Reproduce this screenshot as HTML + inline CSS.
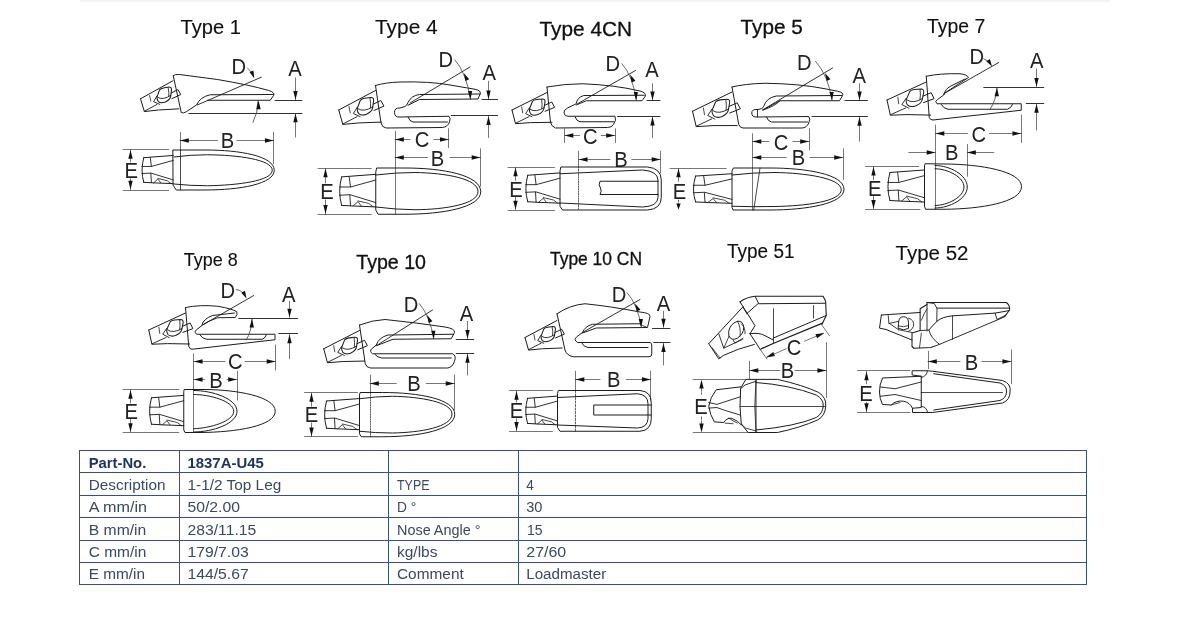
<!DOCTYPE html>
<html><head><meta charset="utf-8"><title>Tooth types</title>
<style>
html,body{margin:0;padding:0;background:#fff;}
body{width:1184px;height:622px;overflow:hidden;position:relative;font-family:"Liberation Sans",sans-serif;}
svg{position:absolute;left:0;top:0;display:block;will-change:transform}
svg text{font-family:"Liberation Sans",sans-serif;}
</style></head><body>
<svg width="1184" height="622" viewBox="0 0 1184 622" stroke-linecap="round" stroke-linejoin="round">
<text x="180.50" y="34.25" font-size="21" textLength="60.50" lengthAdjust="spacingAndGlyphs" fill="#101010" stroke="#101010" stroke-width="0.12">Type 1</text>
<path d="M 173.25,75.75 Q 175.00,74.00 179.50,74.50 L 217.50,79.50 Q 250.00,85.00 268.75,90.50 Q 275.00,92.50 273.75,95.25 L 270.25,100.25 L 207.50,100.25" fill="none" stroke="#1c1c1c" stroke-width="1.00"/>
<path d="M 273.50,94.50 L 210.25,94.75 Q 200.00,97.00 196.50,105.00 L 186.25,111.75 Q 183.00,113.75 181.25,112.50 L 173.25,75.75" fill="none" stroke="#1c1c1c" stroke-width="1.00"/>
<path d="M 140.50,98.75 L 173.00,80.75" fill="none" stroke="#1c1c1c" stroke-width="1.00"/>
<path d="M 140.50,98.75 L 144.27,111.27" fill="none" stroke="#1c1c1c" stroke-width="1.00"/>
<path d="M 144.81,111.53 L 158.52,109.97 L 178.80,108.85" fill="none" stroke="#1c1c1c" stroke-width="1.00"/>
<path d="M 144.27,111.27 L 154.79,105.57 L 157.00,104.38" fill="none" stroke="#1c1c1c" stroke-width="0.90"/>
<path d="M 156.89,97.38 L 159.54,89.88 Q 160.63,88.39 163.43,87.90 L 168.95,87.06 Q 171.54,86.88 171.49,89.69 L 170.79,95.82 Q 170.31,99.71 165.31,102.01 Q 160.88,103.78 158.39,101.59 Q 156.93,99.92 156.89,97.38 Z" fill="none" stroke="#1c1c1c" stroke-width="1.05"/>
<path d="M 168.20,87.61 Q 169.22,92.50 168.79,96.43" fill="none" stroke="#1c1c1c" stroke-width="0.85"/>
<path d="M 157.65,97.36 Q 163.06,100.71 170.78,95.24" fill="none" stroke="#1c1c1c" stroke-width="0.90"/>
<path d="M 156.87,96.04 L 153.57,101.67 L 159.77,104.33" fill="none" stroke="#1c1c1c" stroke-width="0.90"/>
<path d="M 171.28,93.00 L 177.91,89.59 L 180.80,94.54 L 171.94,98.61" fill="none" stroke="#1c1c1c" stroke-width="1.00"/>
<path d="M 149.59,95.57 L 150.80,101.17" fill="none" stroke="#1c1c1c" stroke-width="0.80"/>
<path d="M197.25,105.00 L261.25,77.25" fill="none" stroke="#1c1c1c" stroke-width="0.90"/>
<path d="M 247.50,68.00 Q 251.50,71.25 253.50,76.50" fill="none" stroke="#3c3c3c" stroke-width="0.75"/>
<polygon points="254.25,78.25 249.51,72.07 253.41,70.51" fill="#111"/>
<text transform="translate(238.75,73.50) scale(0.92,1)" x="0" y="0" font-size="22" text-anchor="middle" fill="#222">D</text>
<path d="M188.75,113.50 L302.00,113.50" fill="none" stroke="#1c1c1c" stroke-width="0.90"/>
<path d="M275.00,100.50 L302.00,100.50" fill="none" stroke="#1c1c1c" stroke-width="0.90"/>
<text transform="translate(295.00,76.38) scale(0.92,1)" x="0" y="0" font-size="22" text-anchor="middle" fill="#222">A</text>
<path d="M295.50,78.00 L295.50,99.50" fill="none" stroke="#3c3c3c" stroke-width="0.70"/>
<polygon points="295.50,99.75 293.30,90.95 297.70,90.95" fill="#111"/>
<path d="M295.50,137.00 L295.50,113.75" fill="none" stroke="#3c3c3c" stroke-width="0.70"/>
<polygon points="295.50,113.50 297.70,122.30 293.30,122.30" fill="#111"/>
<path d="M 253.00,122.50 Q 258.00,112.50 258.00,101.00" fill="none" stroke="#3c3c3c" stroke-width="0.80"/>
<polygon points="258.50,100.50 260.70,109.30 256.30,109.30" fill="#111"/>
<path d="M180.50,132.50 L180.50,150.00" fill="none" stroke="#3c3c3c" stroke-width="0.70"/>
<path d="M273.50,132.50 L273.50,163.75" fill="none" stroke="#3c3c3c" stroke-width="0.70"/>
<path d="M180.00,140.50 L217.50,140.50" fill="none" stroke="#3c3c3c" stroke-width="0.70"/>
<path d="M237.00,140.50 L273.75,140.50" fill="none" stroke="#3c3c3c" stroke-width="0.70"/>
<polygon points="180.00,140.50 188.80,138.30 188.80,142.70" fill="#111"/>
<polygon points="273.75,140.50 264.95,142.70 264.95,138.30" fill="#111"/>
<text transform="translate(227.50,147.88) scale(0.92,1)" x="0" y="0" font-size="22" text-anchor="middle" fill="#222">B</text>
<path d="M 173.25,150.00 L 205.00,150.00 C 240.00,150.00 274.25,156.00 274.25,170.25 C 274.25,184.00 240.00,190.00 205.00,190.00 L 176.25,190.00 L 173.25,185.50 Z" fill="none" stroke="#1c1c1c" stroke-width="1.00"/>
<path d="M 174.00,157.00 Q 190.00,154.75 207.50,154.75 C 237.50,155.00 272.25,159.50 272.25,170.25 C 272.25,181.00 237.50,185.25 207.50,185.75 Q 190.00,185.75 174.00,184.00" fill="none" stroke="#1c1c1c" stroke-width="1.00"/>
<path d="M180.50,150.00 L180.50,190.00" fill="none" stroke="#1c1c1c" stroke-width="0.80"/>
<path d="M 143.75,157.68 L 173.25,155.48" fill="none" stroke="#1c1c1c" stroke-width="1.00"/>
<path d="M 143.75,157.68 Q 140.29,170.28 143.75,182.32" fill="none" stroke="#1c1c1c" stroke-width="1.00"/>
<path d="M 143.75,182.32 L 154.05,182.88 L 173.25,183.64" fill="none" stroke="#1c1c1c" stroke-width="1.00"/>
<path d="M 150.31,157.68 L 151.39,166.44" fill="none" stroke="#1c1c1c" stroke-width="0.90"/>
<path d="M 150.85,173.36 L 151.39,182.56" fill="none" stroke="#1c1c1c" stroke-width="0.90"/>
<path d="M 141.89,166.44 L 151.39,166.44 L 173.25,160.40" fill="none" stroke="#1c1c1c" stroke-width="0.90"/>
<path d="M 141.89,173.56 L 151.07,173.12 L 173.25,179.92" fill="none" stroke="#1c1c1c" stroke-width="0.90"/>
<path d="M 153.60,182.88 L 157.95,179.04 L 160.71,182.88" fill="none" stroke="#1c1c1c" stroke-width="0.80"/>
<path d="M 157.95,178.48 L 167.23,180.68 L 171.07,183.64" fill="none" stroke="#1c1c1c" stroke-width="0.80"/>
<path d="M123.25,149.50 L168.75,149.50" fill="none" stroke="#3c3c3c" stroke-width="0.70"/>
<path d="M123.25,190.50 L168.75,190.50" fill="none" stroke="#3c3c3c" stroke-width="0.70"/>
<path d="M130.50,150.00 L130.50,162.00" fill="none" stroke="#3c3c3c" stroke-width="0.70"/>
<path d="M130.50,178.75 L130.50,189.50" fill="none" stroke="#3c3c3c" stroke-width="0.70"/>
<polygon points="130.50,150.00 132.70,158.80 128.30,158.80" fill="#111"/>
<polygon points="130.50,189.50 128.30,180.70 132.70,180.70" fill="#111"/>
<text transform="translate(131.25,177.88) scale(0.92,1)" x="0" y="0" font-size="22" text-anchor="middle" fill="#222">E</text>
<text x="375.00" y="33.75" font-size="21" textLength="62.75" lengthAdjust="spacingAndGlyphs" fill="#101010" stroke="#101010" stroke-width="0.12">Type 4</text>
<path d="M 375.50,85.50 Q 385.00,82.50 400.00,82.00 Q 430.00,81.25 450.00,85.00 L 475.00,89.25 Q 481.00,90.50 480.25,93.50 L 478.00,99.00 L 419.50,99.50 L 408.00,105.25" fill="none" stroke="#1c1c1c" stroke-width="1.00"/>
<path d="M 480.50,94.00 L 419.50,94.50 Q 411.25,95.50 408.00,102.50 Q 407.00,105.50 405.00,106.50 L 400.00,108.00 Q 394.50,107.50 394.50,112.50 Q 394.50,117.50 400.00,117.00 L 449.00,116.25 Q 451.00,118.00 449.50,122.00 Q 447.50,127.00 442.50,127.50 L 386.25,128.00 Q 382.00,127.50 381.00,123.00 L 375.50,85.50" fill="none" stroke="#1c1c1c" stroke-width="1.00"/>
<path d="M 408.00,117.00 Q 409.50,121.50 413.00,122.00 L 447.50,122.00" fill="none" stroke="#1c1c1c" stroke-width="1.00"/>
<path d="M 338.75,110.00 L 375.50,90.50" fill="none" stroke="#1c1c1c" stroke-width="1.00"/>
<path d="M 338.75,110.00 L 342.72,124.09" fill="none" stroke="#1c1c1c" stroke-width="1.00"/>
<path d="M 343.31,124.39 L 358.70,122.93 L 381.43,122.08" fill="none" stroke="#1c1c1c" stroke-width="1.00"/>
<path d="M 342.72,124.09 L 354.62,117.92 L 357.12,116.63" fill="none" stroke="#1c1c1c" stroke-width="0.90"/>
<path d="M 357.13,108.79 L 360.25,100.46 Q 361.50,98.81 364.65,98.32 L 370.84,97.48 Q 373.74,97.34 373.63,100.48 L 372.72,107.33 Q 372.11,111.67 366.46,114.15 Q 361.46,116.04 358.72,113.54 Q 357.13,111.64 357.13,108.79 Z" fill="none" stroke="#1c1c1c" stroke-width="1.05"/>
<path d="M 369.99,98.08 Q 371.03,103.58 370.47,107.97" fill="none" stroke="#1c1c1c" stroke-width="0.85"/>
<path d="M 357.98,108.79 Q 363.97,112.65 372.72,106.68" fill="none" stroke="#1c1c1c" stroke-width="0.90"/>
<path d="M 357.14,107.29 L 353.33,113.53 L 360.21,116.64" fill="none" stroke="#1c1c1c" stroke-width="0.90"/>
<path d="M 373.32,104.18 L 380.82,100.50 L 383.96,106.10 L 373.96,110.47" fill="none" stroke="#1c1c1c" stroke-width="1.00"/>
<path d="M 349.00,106.63 L 350.23,112.92" fill="none" stroke="#1c1c1c" stroke-width="0.80"/>
<path d="M410.00,103.00 L470.00,67.00" fill="none" stroke="#1c1c1c" stroke-width="0.90"/>
<path d="M 455.00,60.00 Q 466.25,72.50 470.50,99.25" fill="none" stroke="#3c3c3c" stroke-width="0.75"/>
<polygon points="463.75,73.00 469.21,79.22 465.45,81.09" fill="#111"/>
<polygon points="470.50,99.50 467.98,91.12 472.17,90.91" fill="#111"/>
<text transform="translate(445.75,67.00) scale(0.92,1)" x="0" y="0" font-size="22" text-anchor="middle" fill="#222">D</text>
<text transform="translate(489.25,80.38) scale(0.92,1)" x="0" y="0" font-size="22" text-anchor="middle" fill="#222">A</text>
<path d="M488.50,81.25 L488.50,99.00" fill="none" stroke="#3c3c3c" stroke-width="0.70"/>
<polygon points="488.50,99.25 486.30,90.45 490.70,90.45" fill="#111"/>
<path d="M482.00,99.50 L497.50,99.50" fill="none" stroke="#1c1c1c" stroke-width="0.90"/>
<path d="M451.25,115.50 L497.50,115.50" fill="none" stroke="#1c1c1c" stroke-width="0.90"/>
<path d="M488.50,137.50 L488.50,116.50" fill="none" stroke="#3c3c3c" stroke-width="0.70"/>
<polygon points="488.50,116.25 490.70,125.05 486.30,125.05" fill="#111"/>
<path d="M395.50,131.25 L395.50,214.25" fill="none" stroke="#3c3c3c" stroke-width="0.70"/>
<path d="M448.50,128.75 L448.50,147.50" fill="none" stroke="#3c3c3c" stroke-width="0.70"/>
<path d="M395.00,139.50 L410.00,139.50" fill="none" stroke="#3c3c3c" stroke-width="0.70"/>
<path d="M433.75,139.50 L448.75,139.50" fill="none" stroke="#3c3c3c" stroke-width="0.70"/>
<polygon points="395.00,139.50 403.80,137.30 403.80,141.70" fill="#111"/>
<polygon points="448.75,139.50 439.95,141.70 439.95,137.30" fill="#111"/>
<text transform="translate(422.12,147.38) scale(0.92,1)" x="0" y="0" font-size="22" text-anchor="middle" fill="#222">C</text>
<path d="M480.50,148.75 L480.50,186.25" fill="none" stroke="#3c3c3c" stroke-width="0.70"/>
<path d="M395.00,157.50 L427.50,157.50" fill="none" stroke="#3c3c3c" stroke-width="0.70"/>
<path d="M450.00,157.50 L480.50,157.50" fill="none" stroke="#3c3c3c" stroke-width="0.70"/>
<polygon points="395.00,157.50 403.80,155.30 403.80,159.70" fill="#111"/>
<polygon points="480.50,157.50 471.70,159.70 471.70,155.30" fill="#111"/>
<text transform="translate(437.50,165.63) scale(0.92,1)" x="0" y="0" font-size="22" text-anchor="middle" fill="#222">B</text>
<path d="M 377.00,168.00 L 405.00,168.00 C 442.50,168.00 480.75,175.00 480.75,191.75 C 480.75,207.50 442.50,214.25 405.00,214.25 L 378.00,214.25 L 375.75,210.00 L 375.75,172.50 Z" fill="none" stroke="#1c1c1c" stroke-width="1.00"/>
<path d="M 375.75,175.00 Q 395.00,172.50 415.00,172.50 C 445.00,173.00 478.00,178.50 478.00,191.50 C 478.00,204.25 445.00,209.50 415.00,209.75 Q 395.00,209.50 375.75,207.00" fill="none" stroke="#1c1c1c" stroke-width="1.00"/>
<path d="M 341.64,176.88 L 375.75,174.34" fill="none" stroke="#1c1c1c" stroke-width="1.00"/>
<path d="M 341.64,176.88 Q 337.64,191.45 341.64,205.37" fill="none" stroke="#1c1c1c" stroke-width="1.00"/>
<path d="M 341.64,205.37 L 353.55,206.02 L 375.75,206.90" fill="none" stroke="#1c1c1c" stroke-width="1.00"/>
<path d="M 349.22,176.88 L 350.48,187.01" fill="none" stroke="#1c1c1c" stroke-width="0.90"/>
<path d="M 349.85,195.01 L 350.48,205.65" fill="none" stroke="#1c1c1c" stroke-width="0.90"/>
<path d="M 339.49,187.01 L 350.48,187.01 L 375.75,180.03" fill="none" stroke="#1c1c1c" stroke-width="0.90"/>
<path d="M 339.49,195.24 L 350.11,194.73 L 375.75,202.59" fill="none" stroke="#1c1c1c" stroke-width="0.90"/>
<path d="M 353.03,206.02 L 358.06,201.58 L 361.25,206.02" fill="none" stroke="#1c1c1c" stroke-width="0.80"/>
<path d="M 358.06,200.93 L 368.79,203.47 L 373.23,206.90" fill="none" stroke="#1c1c1c" stroke-width="0.80"/>
<path d="M318.00,168.50 L371.25,168.50" fill="none" stroke="#3c3c3c" stroke-width="0.70"/>
<path d="M318.00,214.50 L371.25,214.50" fill="none" stroke="#3c3c3c" stroke-width="0.70"/>
<path d="M325.50,168.50 L325.50,183.00" fill="none" stroke="#3c3c3c" stroke-width="0.70"/>
<path d="M325.50,200.00 L325.50,213.75" fill="none" stroke="#3c3c3c" stroke-width="0.70"/>
<polygon points="325.50,168.50 327.70,177.30 323.30,177.30" fill="#111"/>
<polygon points="325.50,213.75 323.30,204.95 327.70,204.95" fill="#111"/>
<text transform="translate(326.88,199.13) scale(0.92,1)" x="0" y="0" font-size="22" text-anchor="middle" fill="#222">E</text>
<text x="539.50" y="36.25" font-size="21" textLength="92.50" lengthAdjust="spacingAndGlyphs" fill="#101010" stroke="#101010" stroke-width="0.32">Type 4CN</text>
<path d="M 547.00,87.00 Q 565.00,83.75 582.50,83.75 Q 615.00,85.00 640.00,91.00 Q 646.50,92.75 645.25,96.25 L 642.00,100.75 L 586.25,100.75 L 576.25,105.00" fill="none" stroke="#1c1c1c" stroke-width="1.00"/>
<path d="M 644.25,95.25 L 583.75,95.50 Q 577.00,97.50 576.25,103.75 L 567.50,108.00 Q 563.50,110.00 564.00,113.00 Q 564.50,116.50 568.00,116.25 L 615.00,116.25 Q 616.75,120.00 613.50,124.50 Q 611.50,127.50 607.50,127.50 L 555.50,128.00 Q 551.50,126.50 550.50,122.50 L 547.00,87.00" fill="none" stroke="#1c1c1c" stroke-width="1.00"/>
<path d="M 575.00,116.75 Q 576.50,121.25 580.00,121.75 L 614.00,121.75" fill="none" stroke="#1c1c1c" stroke-width="1.00"/>
<path d="M 512.00,110.00 L 547.00,92.50" fill="none" stroke="#1c1c1c" stroke-width="1.00"/>
<path d="M 512.00,110.00 L 515.41,123.34" fill="none" stroke="#1c1c1c" stroke-width="1.00"/>
<path d="M 515.96,123.64 L 530.47,122.61 L 551.85,122.33" fill="none" stroke="#1c1c1c" stroke-width="1.00"/>
<path d="M 515.41,123.34 L 526.74,117.81 L 529.12,116.65" fill="none" stroke="#1c1c1c" stroke-width="0.90"/>
<path d="M 529.31,109.28 L 532.43,101.52 Q 533.64,100.00 536.62,99.60 L 542.46,98.96 Q 545.19,98.89 545.02,101.85 L 544.00,108.26 Q 543.33,112.33 537.96,114.54 Q 533.22,116.20 530.70,113.78 Q 529.24,111.96 529.31,109.28 Z" fill="none" stroke="#1c1c1c" stroke-width="1.05"/>
<path d="M 541.65,99.50 Q 542.50,104.69 541.87,108.81" fill="none" stroke="#1c1c1c" stroke-width="0.85"/>
<path d="M 530.11,109.30 Q 535.65,113.07 544.02,107.65" fill="none" stroke="#1c1c1c" stroke-width="0.90"/>
<path d="M 529.35,107.87 L 525.63,113.65 L 532.03,116.73" fill="none" stroke="#1c1c1c" stroke-width="0.90"/>
<path d="M 544.64,105.31 L 551.78,102.02 L 554.60,107.36 L 545.10,111.25" fill="none" stroke="#1c1c1c" stroke-width="1.00"/>
<path d="M 521.71,107.06 L 522.73,113.01" fill="none" stroke="#1c1c1c" stroke-width="0.80"/>
<path d="M577.50,103.75 L635.50,70.50" fill="none" stroke="#1c1c1c" stroke-width="0.90"/>
<path d="M 622.00,63.75 Q 633.00,76.25 636.25,100.00" fill="none" stroke="#3c3c3c" stroke-width="0.75"/>
<polygon points="630.00,74.50 635.46,80.72 631.70,82.59" fill="#111"/>
<polygon points="636.25,100.50 633.73,92.12 637.92,91.91" fill="#111"/>
<text transform="translate(612.88,71.00) scale(0.92,1)" x="0" y="0" font-size="22" text-anchor="middle" fill="#222">D</text>
<text transform="translate(652.12,77.25) scale(0.92,1)" x="0" y="0" font-size="22" text-anchor="middle" fill="#222">A</text>
<path d="M652.50,83.75 L652.50,100.00" fill="none" stroke="#3c3c3c" stroke-width="0.70"/>
<polygon points="652.50,100.25 650.30,91.45 654.70,91.45" fill="#111"/>
<path d="M647.00,100.50 L660.00,100.50" fill="none" stroke="#1c1c1c" stroke-width="0.90"/>
<path d="M617.50,116.50 L660.00,116.50" fill="none" stroke="#1c1c1c" stroke-width="0.90"/>
<path d="M652.50,137.50 L652.50,117.00" fill="none" stroke="#3c3c3c" stroke-width="0.70"/>
<polygon points="652.50,116.75 654.70,125.55 650.30,125.55" fill="#111"/>
<path d="M564.50,128.75 L564.50,142.50" fill="none" stroke="#3c3c3c" stroke-width="0.70"/>
<path d="M615.50,128.75 L615.50,142.50" fill="none" stroke="#3c3c3c" stroke-width="0.70"/>
<path d="M564.50,135.50 L579.50,135.50" fill="none" stroke="#3c3c3c" stroke-width="0.70"/>
<path d="M601.25,135.50 L615.00,135.50" fill="none" stroke="#3c3c3c" stroke-width="0.70"/>
<polygon points="564.50,135.50 573.30,133.30 573.30,137.70" fill="#111"/>
<polygon points="615.00,135.50 606.20,137.70 606.20,133.30" fill="#111"/>
<text transform="translate(590.38,144.13) scale(0.92,1)" x="0" y="0" font-size="22" text-anchor="middle" fill="#222">C</text>
<path d="M578.50,151.25 L578.50,167.00" fill="none" stroke="#3c3c3c" stroke-width="0.70"/>
<path d="M660.50,151.25 L660.50,173.00" fill="none" stroke="#3c3c3c" stroke-width="0.70"/>
<path d="M578.75,159.50 L610.00,159.50" fill="none" stroke="#3c3c3c" stroke-width="0.70"/>
<path d="M632.00,159.50 L660.50,159.50" fill="none" stroke="#3c3c3c" stroke-width="0.70"/>
<polygon points="578.75,159.50 587.55,157.30 587.55,161.70" fill="#111"/>
<polygon points="660.50,159.50 651.70,161.70 651.70,157.30" fill="#111"/>
<text transform="translate(621.00,166.63) scale(0.92,1)" x="0" y="0" font-size="22" text-anchor="middle" fill="#222">B</text>
<path d="M 561.25,167.00 L 647.50,167.00 Q 661.25,168.25 661.25,180.00 L 661.25,197.50 Q 661.25,209.00 647.50,210.00 L 562.50,210.00 L 560.00,206.25 L 560.00,171.25 Z" fill="none" stroke="#1c1c1c" stroke-width="1.00"/>
<path d="M 560.00,173.75 L 642.50,170.00 Q 657.50,171.00 658.00,180.00 L 658.00,197.50 Q 657.50,206.50 642.50,207.00 L 560.00,203.00" fill="none" stroke="#1c1c1c" stroke-width="1.00"/>
<path d="M 658.00,181.25 L 600.00,181.25 Q 598.00,185.00 600.50,188.00 Q 602.00,191.25 600.00,194.50 L 658.00,194.50" fill="none" stroke="#1c1c1c" stroke-width="1.00"/>
<path d="M578.50,167.00 L578.50,210.00" fill="none" stroke="#1c1c1c" stroke-width="0.70" stroke-dasharray="1.2,1.2"/>
<path d="M 527.73,175.26 L 560.00,172.89" fill="none" stroke="#1c1c1c" stroke-width="1.00"/>
<path d="M 527.73,175.26 Q 523.95,188.80 527.73,201.74" fill="none" stroke="#1c1c1c" stroke-width="1.00"/>
<path d="M 527.73,201.74 L 539.00,202.35 L 560.00,203.16" fill="none" stroke="#1c1c1c" stroke-width="1.00"/>
<path d="M 534.90,175.26 L 536.10,184.67" fill="none" stroke="#1c1c1c" stroke-width="0.90"/>
<path d="M 535.50,192.11 L 536.10,202.00" fill="none" stroke="#1c1c1c" stroke-width="0.90"/>
<path d="M 525.70,184.67 L 536.10,184.67 L 560.00,178.18" fill="none" stroke="#1c1c1c" stroke-width="0.90"/>
<path d="M 525.70,192.33 L 535.75,191.85 L 560.00,199.16" fill="none" stroke="#1c1c1c" stroke-width="0.90"/>
<path d="M 538.51,202.35 L 543.27,198.22 L 546.28,202.35" fill="none" stroke="#1c1c1c" stroke-width="0.80"/>
<path d="M 543.27,197.62 L 553.42,199.98 L 557.62,203.16" fill="none" stroke="#1c1c1c" stroke-width="0.80"/>
<path d="M508.00,167.50 L554.50,167.50" fill="none" stroke="#3c3c3c" stroke-width="0.70"/>
<path d="M508.00,210.50 L554.50,210.50" fill="none" stroke="#3c3c3c" stroke-width="0.70"/>
<path d="M515.50,167.50 L515.50,180.50" fill="none" stroke="#3c3c3c" stroke-width="0.70"/>
<path d="M515.50,197.00 L515.50,209.50" fill="none" stroke="#3c3c3c" stroke-width="0.70"/>
<polygon points="515.50,167.50 517.70,176.30 513.30,176.30" fill="#111"/>
<polygon points="515.50,209.50 513.30,200.70 517.70,200.70" fill="#111"/>
<text transform="translate(515.88,196.63) scale(0.92,1)" x="0" y="0" font-size="22" text-anchor="middle" fill="#222">E</text>
<text x="740.50" y="33.75" font-size="21" textLength="62.25" lengthAdjust="spacingAndGlyphs" fill="#101010" stroke="#101010" stroke-width="0.32">Type 5</text>
<path d="M 732.00,87.00 Q 745.00,83.75 765.00,83.25 Q 800.00,83.75 825.00,88.75 L 837.50,91.25 Q 844.25,92.50 842.50,95.75 L 839.50,100.75 L 780.00,100.75 L 763.00,110.00" fill="none" stroke="#1c1c1c" stroke-width="1.00"/>
<path d="M 841.75,95.50 L 776.25,96.00 Q 766.25,98.00 763.75,106.25 Q 763.00,109.00 757.50,109.50 Q 751.75,109.00 751.75,113.00 Q 751.75,117.50 757.50,117.00 L 808.75,116.50 Q 810.75,118.50 808.75,123.00 Q 806.50,128.00 802.00,128.00 L 743.00,128.00 Q 739.50,127.50 738.75,124.50 L 732.00,87.00" fill="none" stroke="#1c1c1c" stroke-width="1.00"/>
<path d="M757.50,109.50 L757.50,117.00" fill="none" stroke="#1c1c1c" stroke-width="0.90"/>
<path d="M 766.50,117.00 Q 768.00,121.50 771.50,122.00 L 807.50,122.00" fill="none" stroke="#1c1c1c" stroke-width="1.00"/>
<path d="M 763.00,110.00 Q 775.00,106.25 780.00,100.75" fill="none" stroke="#1c1c1c" stroke-width="0.90"/>
<path d="M 692.50,111.25 L 732.00,92.00" fill="none" stroke="#1c1c1c" stroke-width="1.00"/>
<path d="M 692.50,111.25 L 696.17,126.27" fill="none" stroke="#1c1c1c" stroke-width="1.00"/>
<path d="M 696.80,126.61 L 713.09,125.62 L 737.11,125.55" fill="none" stroke="#1c1c1c" stroke-width="1.00"/>
<path d="M 696.17,126.27 L 708.96,120.19 L 711.65,118.92" fill="none" stroke="#1c1c1c" stroke-width="0.90"/>
<path d="M 711.95,110.64 L 715.54,101.96 Q 716.92,100.26 720.26,99.86 L 726.83,99.20 Q 729.89,99.15 729.66,102.47 L 728.45,109.66 Q 727.65,114.22 721.60,116.64 Q 716.25,118.45 713.45,115.71 Q 711.84,113.65 711.95,110.64 Z" fill="none" stroke="#1c1c1c" stroke-width="1.05"/>
<path d="M 725.91,99.80 Q 726.80,105.64 726.05,110.26" fill="none" stroke="#1c1c1c" stroke-width="0.85"/>
<path d="M 712.84,110.67 Q 719.02,114.96 728.48,108.97" fill="none" stroke="#1c1c1c" stroke-width="0.90"/>
<path d="M 712.01,109.06 L 707.76,115.50 L 714.91,119.04" fill="none" stroke="#1c1c1c" stroke-width="0.90"/>
<path d="M 729.21,106.36 L 737.26,102.75 L 740.36,108.77 L 729.65,113.03" fill="none" stroke="#1c1c1c" stroke-width="1.00"/>
<path d="M 703.44,108.06 L 704.51,114.75" fill="none" stroke="#1c1c1c" stroke-width="0.80"/>
<path d="M762.50,110.00 L832.50,68.00" fill="none" stroke="#1c1c1c" stroke-width="0.90"/>
<path d="M 815.50,61.25 Q 828.00,75.00 832.00,100.00" fill="none" stroke="#3c3c3c" stroke-width="0.75"/>
<polygon points="825.00,73.00 830.46,79.22 826.70,81.09" fill="#111"/>
<polygon points="832.00,100.50 829.48,92.12 833.67,91.91" fill="#111"/>
<text transform="translate(804.25,70.00) scale(0.92,1)" x="0" y="0" font-size="22" text-anchor="middle" fill="#222">D</text>
<text transform="translate(859.25,82.88) scale(0.92,1)" x="0" y="0" font-size="22" text-anchor="middle" fill="#222">A</text>
<path d="M859.50,83.75 L859.50,100.00" fill="none" stroke="#3c3c3c" stroke-width="0.70"/>
<polygon points="859.50,100.25 857.30,91.45 861.70,91.45" fill="#111"/>
<path d="M845.00,100.50 L867.50,100.50" fill="none" stroke="#1c1c1c" stroke-width="0.90"/>
<path d="M812.00,116.50 L867.50,116.50" fill="none" stroke="#1c1c1c" stroke-width="0.90"/>
<path d="M859.50,141.25 L859.50,117.25" fill="none" stroke="#3c3c3c" stroke-width="0.70"/>
<polygon points="859.50,117.00 861.70,125.80 857.30,125.80" fill="#111"/>
<path d="M752.50,133.75 L752.50,210.00" fill="none" stroke="#3c3c3c" stroke-width="0.70"/>
<path d="M809.50,128.75 L809.50,150.00" fill="none" stroke="#3c3c3c" stroke-width="0.70"/>
<path d="M752.50,141.50 L768.75,141.50" fill="none" stroke="#3c3c3c" stroke-width="0.70"/>
<path d="M793.00,141.50 L809.00,141.50" fill="none" stroke="#3c3c3c" stroke-width="0.70"/>
<polygon points="752.50,141.50 761.30,139.30 761.30,143.70" fill="#111"/>
<polygon points="809.00,141.50 800.20,143.70 800.20,139.30" fill="#111"/>
<text transform="translate(781.00,149.88) scale(0.92,1)" x="0" y="0" font-size="22" text-anchor="middle" fill="#222">C</text>
<path d="M843.50,148.75 L843.50,179.50" fill="none" stroke="#3c3c3c" stroke-width="0.70"/>
<path d="M752.50,157.50 L786.25,157.50" fill="none" stroke="#3c3c3c" stroke-width="0.70"/>
<path d="M810.00,157.50 L843.00,157.50" fill="none" stroke="#3c3c3c" stroke-width="0.70"/>
<polygon points="752.50,157.50 761.30,155.30 761.30,159.70" fill="#111"/>
<polygon points="843.00,157.50 834.20,159.70 834.20,155.30" fill="#111"/>
<text transform="translate(798.50,165.38) scale(0.92,1)" x="0" y="0" font-size="22" text-anchor="middle" fill="#222">B</text>
<path d="M 733.75,168.00 L 770.00,168.00 C 806.25,168.00 844.00,174.25 844.00,189.25 C 844.00,203.75 806.25,210.00 770.00,210.00 L 733.00,210.00 L 732.00,207.50 L 732.00,171.25 Z" fill="none" stroke="#1c1c1c" stroke-width="1.00"/>
<path d="M 732.00,175.00 Q 752.50,172.50 775.00,172.50 C 805.00,173.00 841.25,178.00 841.25,189.75 C 841.25,201.50 805.00,206.00 775.00,206.50 Q 752.50,207.00 732.00,206.25" fill="none" stroke="#1c1c1c" stroke-width="1.00"/>
<path d="M760.00,168.00 L753.75,210.00" fill="none" stroke="#1c1c1c" stroke-width="0.80"/>
<path d="M 695.58,176.06 L 732.00,173.75" fill="none" stroke="#1c1c1c" stroke-width="1.00"/>
<path d="M 695.58,176.06 Q 691.32,189.29 695.58,201.94" fill="none" stroke="#1c1c1c" stroke-width="1.00"/>
<path d="M 695.58,201.94 L 708.30,202.52 L 732.00,203.32" fill="none" stroke="#1c1c1c" stroke-width="1.00"/>
<path d="M 703.68,176.06 L 705.02,185.26" fill="none" stroke="#1c1c1c" stroke-width="0.90"/>
<path d="M 704.35,192.53 L 705.02,202.19" fill="none" stroke="#1c1c1c" stroke-width="0.90"/>
<path d="M 693.29,185.26 L 705.02,185.26 L 732.00,178.92" fill="none" stroke="#1c1c1c" stroke-width="0.90"/>
<path d="M 693.29,192.74 L 704.63,192.28 L 732.00,199.42" fill="none" stroke="#1c1c1c" stroke-width="0.90"/>
<path d="M 707.75,202.52 L 713.12,198.49 L 716.52,202.52" fill="none" stroke="#1c1c1c" stroke-width="0.80"/>
<path d="M 713.12,197.90 L 724.57,200.21 L 729.31,203.32" fill="none" stroke="#1c1c1c" stroke-width="0.80"/>
<path d="M670.00,168.50 L726.25,168.50" fill="none" stroke="#3c3c3c" stroke-width="0.70"/>
<path d="M678.50,168.75 L678.50,181.25" fill="none" stroke="#3c3c3c" stroke-width="0.70"/>
<path d="M678.50,200.00 L678.50,208.75" fill="none" stroke="#3c3c3c" stroke-width="0.75" stroke-dasharray="1.5,1.5"/>
<polygon points="678.50,168.50 680.70,177.30 676.30,177.30" fill="#111"/>
<polygon points="678.50,209.50 676.30,203.50 680.70,203.50" fill="#111"/>
<text transform="translate(679.38,199.13) scale(0.92,1)" x="0" y="0" font-size="22" text-anchor="middle" fill="#222">E</text>
<text x="927.00" y="33.00" font-size="20" textLength="58.25" lengthAdjust="spacingAndGlyphs" fill="#101010" stroke="#101010" stroke-width="0.12">Type 7</text>
<path d="M 926.25,76.25 Q 940.00,73.25 960.00,73.75 Q 967.00,74.50 968.50,77.50 L 946.25,92.00 Q 943.75,93.75 943.75,95.00 L 937.50,99.50 Q 934.25,101.50 937.00,103.75 L 1021.25,103.75 L 1021.25,110.25 L 933.00,120.00 Q 930.00,120.00 929.25,117.50 L 926.25,76.25" fill="none" stroke="#1c1c1c" stroke-width="1.00"/>
<path d="M 944.00,94.50 Q 945.00,89.00 950.50,86.25 L 965.00,79.00" fill="none" stroke="#1c1c1c" stroke-width="1.00"/>
<path d="M 941.25,104.50 Q 943.75,108.75 948.00,109.25 L 1007.50,109.25 Q 1011.50,107.75 1012.50,104.50" fill="none" stroke="#1c1c1c" stroke-width="1.00"/>
<path d="M 887.00,100.00 L 926.25,82.00" fill="none" stroke="#1c1c1c" stroke-width="1.00"/>
<path d="M 887.00,100.00 L 890.26,114.84" fill="none" stroke="#1c1c1c" stroke-width="1.00"/>
<path d="M 890.87,115.19 L 906.90,114.59 L 930.50,115.08" fill="none" stroke="#1c1c1c" stroke-width="1.00"/>
<path d="M 890.26,114.84 L 902.96,109.16 L 905.63,107.97" fill="none" stroke="#1c1c1c" stroke-width="0.90"/>
<path d="M 906.12,99.85 L 909.85,91.40 Q 911.24,89.77 914.53,89.45 L 921.00,88.96 Q 924.01,88.98 923.71,92.23 L 922.36,99.27 Q 921.47,103.73 915.46,105.97 Q 910.17,107.62 907.48,104.86 Q 905.94,102.80 906.12,99.85 Z" fill="none" stroke="#1c1c1c" stroke-width="1.05"/>
<path d="M 920.09,89.52 Q 920.83,95.28 919.99,99.80" fill="none" stroke="#1c1c1c" stroke-width="0.85"/>
<path d="M 907.00,99.90 Q 912.97,104.26 922.40,98.59" fill="none" stroke="#1c1c1c" stroke-width="0.90"/>
<path d="M 906.21,98.30 L 901.89,104.53 L 908.84,108.17" fill="none" stroke="#1c1c1c" stroke-width="0.90"/>
<path d="M 923.17,96.04 L 931.17,92.68 L 934.08,98.67 L 923.45,102.60" fill="none" stroke="#1c1c1c" stroke-width="1.00"/>
<path d="M 897.82,97.12 L 898.72,103.72" fill="none" stroke="#1c1c1c" stroke-width="0.80"/>
<path d="M943.75,93.75 L998.75,62.50" fill="none" stroke="#1c1c1c" stroke-width="0.90"/>
<path d="M 983.75,58.75 Q 988.00,60.00 990.50,64.50" fill="none" stroke="#3c3c3c" stroke-width="0.75"/>
<polygon points="992.00,66.50 986.34,61.15 989.94,58.99" fill="#111"/>
<text transform="translate(976.75,63.88) scale(0.92,1)" x="0" y="0" font-size="22" text-anchor="middle" fill="#222">D</text>
<text transform="translate(1036.75,67.88) scale(0.92,1)" x="0" y="0" font-size="22" text-anchor="middle" fill="#222">A</text>
<path d="M1036.50,68.75 L1036.50,86.50" fill="none" stroke="#3c3c3c" stroke-width="0.70"/>
<polygon points="1036.50,86.75 1034.30,77.95 1038.70,77.95" fill="#111"/>
<path d="M983.75,87.50 L1043.75,87.50" fill="none" stroke="#1c1c1c" stroke-width="0.90"/>
<path d="M1026.25,103.50 L1043.75,103.50" fill="none" stroke="#1c1c1c" stroke-width="0.90"/>
<path d="M1036.50,130.00 L1036.50,104.25" fill="none" stroke="#3c3c3c" stroke-width="0.70"/>
<polygon points="1036.50,104.00 1038.70,112.80 1034.30,112.80" fill="#111"/>
<path d="M 990.00,109.50 Q 996.25,100.00 997.00,88.00" fill="none" stroke="#3c3c3c" stroke-width="0.80"/>
<polygon points="997.00,87.50 998.94,96.36 994.54,96.23" fill="#111"/>
<path d="M935.50,125.00 L935.50,209.25" fill="none" stroke="#3c3c3c" stroke-width="0.70"/>
<path d="M1021.50,115.00 L1021.50,142.50" fill="none" stroke="#3c3c3c" stroke-width="0.70"/>
<path d="M935.50,133.50 L967.50,133.50" fill="none" stroke="#3c3c3c" stroke-width="0.70"/>
<path d="M989.50,133.50 L1021.25,133.50" fill="none" stroke="#3c3c3c" stroke-width="0.70"/>
<polygon points="935.50,133.50 944.30,131.30 944.30,135.70" fill="#111"/>
<polygon points="1021.25,133.50 1012.45,135.70 1012.45,131.30" fill="#111"/>
<text transform="translate(978.75,141.63) scale(0.92,1)" x="0" y="0" font-size="22" text-anchor="middle" fill="#222">C</text>
<path d="M967.50,144.50 L967.50,176.25" fill="none" stroke="#3c3c3c" stroke-width="0.70"/>
<path d="M908.75,152.50 L935.00,152.50" fill="none" stroke="#3c3c3c" stroke-width="0.70"/>
<polygon points="935.50,152.50 926.70,154.70 926.70,150.30" fill="#111"/>
<path d="M967.50,152.50 L993.75,152.50" fill="none" stroke="#3c3c3c" stroke-width="0.70"/>
<polygon points="967.00,152.50 975.80,150.30 975.80,154.70" fill="#111"/>
<text transform="translate(951.75,160.13) scale(0.92,1)" x="0" y="0" font-size="22" text-anchor="middle" fill="#222">B</text>
<path d="M 925.50,163.75 L 945.00,164.00 C 980.00,164.25 1021.50,171.00 1021.50,186.75 C 1021.50,202.50 980.00,209.00 945.00,209.25 L 925.50,209.25 L 924.50,206.25 L 924.50,166.25 Z" fill="none" stroke="#1c1c1c" stroke-width="1.00"/>
<path d="M 935.00,165.50 C 950.00,165.50 967.25,175.00 967.25,187.00 C 967.25,198.75 950.00,208.00 935.00,208.00" fill="none" stroke="#1c1c1c" stroke-width="1.00"/>
<path d="M 935.00,168.75 C 947.50,168.75 964.00,177.00 964.00,187.00 C 964.00,197.00 947.50,205.50 935.00,205.50" fill="none" stroke="#1c1c1c" stroke-width="1.00"/>
<path d="M 889.92,172.49 L 924.50,169.98" fill="none" stroke="#1c1c1c" stroke-width="1.00"/>
<path d="M 889.92,172.49 Q 885.88,186.82 889.92,200.51" fill="none" stroke="#1c1c1c" stroke-width="1.00"/>
<path d="M 889.92,200.51 L 902.00,201.15 L 924.50,202.02" fill="none" stroke="#1c1c1c" stroke-width="1.00"/>
<path d="M 897.61,172.49 L 898.89,182.45" fill="none" stroke="#1c1c1c" stroke-width="0.90"/>
<path d="M 898.25,190.32 L 898.89,200.79" fill="none" stroke="#1c1c1c" stroke-width="0.90"/>
<path d="M 887.75,182.45 L 898.89,182.45 L 924.50,175.58" fill="none" stroke="#1c1c1c" stroke-width="0.90"/>
<path d="M 887.75,190.55 L 898.51,190.05 L 924.50,197.78" fill="none" stroke="#1c1c1c" stroke-width="0.90"/>
<path d="M 901.48,201.15 L 906.58,196.78 L 909.80,201.15" fill="none" stroke="#1c1c1c" stroke-width="0.80"/>
<path d="M 906.58,196.15 L 917.45,198.65 L 921.95,202.02" fill="none" stroke="#1c1c1c" stroke-width="0.80"/>
<path d="M865.50,166.50 L918.75,166.50" fill="none" stroke="#3c3c3c" stroke-width="0.70"/>
<path d="M865.50,209.50 L920.00,209.50" fill="none" stroke="#3c3c3c" stroke-width="0.70"/>
<path d="M873.50,166.75 L873.50,179.50" fill="none" stroke="#3c3c3c" stroke-width="0.70"/>
<path d="M873.50,196.25 L873.50,208.75" fill="none" stroke="#3c3c3c" stroke-width="0.70"/>
<polygon points="873.50,166.75 875.70,175.55 871.30,175.55" fill="#111"/>
<polygon points="873.50,208.75 871.30,199.95 875.70,199.95" fill="#111"/>
<text transform="translate(874.75,195.88) scale(0.92,1)" x="0" y="0" font-size="22" text-anchor="middle" fill="#222">E</text>
<text x="183.75" y="265.50" font-size="19" textLength="54.00" lengthAdjust="spacingAndGlyphs" fill="#101010" stroke="#101010" stroke-width="0.12">Type 8</text>
<path d="M 185.50,307.50 Q 200.00,304.50 217.50,306.25 Q 232.50,308.75 236.75,311.75 Q 238.00,314.50 235.25,317.50 L 217.50,317.75 Q 207.50,321.25 202.50,325.00 L 196.25,330.00 Q 193.50,332.50 197.00,334.25 L 275.00,334.25 L 275.00,339.75 L 192.00,349.25 Q 189.50,349.25 188.75,346.25 L 185.50,307.50" fill="none" stroke="#1c1c1c" stroke-width="1.00"/>
<path d="M 202.00,324.50 Q 203.75,318.75 212.50,315.50 L 234.50,313.00" fill="none" stroke="#1c1c1c" stroke-width="1.00"/>
<path d="M 200.00,335.00 Q 202.50,338.75 206.75,339.25 L 262.50,339.25 Q 265.50,337.75 266.25,335.00" fill="none" stroke="#1c1c1c" stroke-width="1.00"/>
<path d="M 148.75,330.00 L 185.50,313.00" fill="none" stroke="#1c1c1c" stroke-width="1.00"/>
<path d="M 148.75,330.00 L 151.86,343.91" fill="none" stroke="#1c1c1c" stroke-width="1.00"/>
<path d="M 152.42,344.23 L 167.45,343.62 L 189.58,344.00" fill="none" stroke="#1c1c1c" stroke-width="1.00"/>
<path d="M 151.86,343.91 L 163.75,338.54 L 166.25,337.42" fill="none" stroke="#1c1c1c" stroke-width="0.90"/>
<path d="M 166.68,329.80 L 170.15,321.87 Q 171.45,320.33 174.54,320.02 L 180.60,319.54 Q 183.42,319.55 183.15,322.60 L 181.90,329.20 Q 181.08,333.39 175.46,335.51 Q 170.50,337.08 167.97,334.50 Q 166.52,332.57 166.68,329.80 Z" fill="none" stroke="#1c1c1c" stroke-width="1.05"/>
<path d="M 179.74,320.07 Q 180.46,325.47 179.68,329.71" fill="none" stroke="#1c1c1c" stroke-width="0.85"/>
<path d="M 167.50,329.85 Q 173.12,333.91 181.94,328.57" fill="none" stroke="#1c1c1c" stroke-width="0.90"/>
<path d="M 166.76,328.34 L 162.73,334.20 L 169.25,337.59" fill="none" stroke="#1c1c1c" stroke-width="0.90"/>
<path d="M 182.66,326.18 L 190.14,323.00 L 192.89,328.61 L 182.94,332.33" fill="none" stroke="#1c1c1c" stroke-width="1.00"/>
<path d="M 158.89,327.26 L 159.75,333.45" fill="none" stroke="#1c1c1c" stroke-width="0.80"/>
<path d="M202.50,325.00 L253.75,295.50" fill="none" stroke="#1c1c1c" stroke-width="0.90"/>
<path d="M 236.25,289.50 Q 243.00,290.50 245.00,296.00" fill="none" stroke="#3c3c3c" stroke-width="0.75"/>
<polygon points="246.50,298.50 241.27,292.73 245.02,290.85" fill="#111"/>
<text transform="translate(227.88,298.25) scale(0.92,1)" x="0" y="0" font-size="22" text-anchor="middle" fill="#222">D</text>
<text transform="translate(288.75,301.63) scale(0.92,1)" x="0" y="0" font-size="22" text-anchor="middle" fill="#222">A</text>
<path d="M289.50,301.25 L289.50,317.25" fill="none" stroke="#3c3c3c" stroke-width="0.70"/>
<polygon points="289.50,317.50 287.30,308.70 291.70,308.70" fill="#111"/>
<path d="M238.75,318.50 L297.50,318.50" fill="none" stroke="#1c1c1c" stroke-width="0.90"/>
<path d="M278.75,333.50 L297.50,333.50" fill="none" stroke="#1c1c1c" stroke-width="0.90"/>
<path d="M289.50,358.75 L289.50,334.75" fill="none" stroke="#3c3c3c" stroke-width="0.70"/>
<polygon points="289.50,334.50 291.70,343.30 287.30,343.30" fill="#111"/>
<path d="M 246.25,340.00 Q 251.50,331.25 252.00,319.50" fill="none" stroke="#3c3c3c" stroke-width="0.80"/>
<polygon points="252.00,318.75 253.94,327.61 249.54,327.48" fill="#111"/>
<path d="M193.50,353.75 L193.50,432.50" fill="none" stroke="#3c3c3c" stroke-width="0.70"/>
<path d="M275.50,345.00 L275.50,370.00" fill="none" stroke="#3c3c3c" stroke-width="0.70"/>
<path d="M193.75,361.50 L225.00,361.50" fill="none" stroke="#3c3c3c" stroke-width="0.70"/>
<path d="M245.00,361.50 L275.50,361.50" fill="none" stroke="#3c3c3c" stroke-width="0.70"/>
<polygon points="193.75,361.50 202.55,359.30 202.55,363.70" fill="#111"/>
<polygon points="275.50,361.50 266.70,363.70 266.70,359.30" fill="#111"/>
<text transform="translate(235.38,369.13) scale(0.92,1)" x="0" y="0" font-size="22" text-anchor="middle" fill="#222">C</text>
<path d="M237.50,371.25 L237.50,400.00" fill="none" stroke="#3c3c3c" stroke-width="0.70"/>
<path d="M193.75,379.50 L204.50,379.50" fill="none" stroke="#3c3c3c" stroke-width="0.70"/>
<path d="M227.00,379.50 L237.00,379.50" fill="none" stroke="#3c3c3c" stroke-width="0.70"/>
<polygon points="193.75,379.50 202.55,377.30 202.55,381.70" fill="#111"/>
<polygon points="237.00,379.50 228.20,381.70 228.20,377.30" fill="#111"/>
<text transform="translate(216.00,387.63) scale(0.92,1)" x="0" y="0" font-size="22" text-anchor="middle" fill="#222">B</text>
<path d="M 184.50,389.50 L 205.00,389.50 C 236.25,389.75 275.25,396.25 275.25,411.25 C 275.25,426.00 236.25,432.25 200.00,432.50 L 185.00,432.50 L 183.75,430.00 L 183.75,392.00 Z" fill="none" stroke="#1c1c1c" stroke-width="1.00"/>
<path d="M 193.75,390.50 C 212.50,390.50 237.00,398.75 237.00,411.25 C 237.00,423.75 212.50,432.00 193.75,432.00" fill="none" stroke="#1c1c1c" stroke-width="1.00"/>
<path d="M 193.75,394.50 C 210.00,394.50 233.75,401.25 233.75,411.25 C 233.75,421.25 210.00,428.25 193.75,428.75" fill="none" stroke="#1c1c1c" stroke-width="1.00"/>
<path d="M 151.48,397.76 L 183.75,395.39" fill="none" stroke="#1c1c1c" stroke-width="1.00"/>
<path d="M 151.48,397.76 Q 147.70,411.30 151.48,424.24" fill="none" stroke="#1c1c1c" stroke-width="1.00"/>
<path d="M 151.48,424.24 L 162.75,424.85 L 183.75,425.66" fill="none" stroke="#1c1c1c" stroke-width="1.00"/>
<path d="M 158.66,397.76 L 159.84,407.17" fill="none" stroke="#1c1c1c" stroke-width="0.90"/>
<path d="M 159.25,414.61 L 159.84,424.50" fill="none" stroke="#1c1c1c" stroke-width="0.90"/>
<path d="M 149.45,407.17 L 159.84,407.17 L 183.75,400.68" fill="none" stroke="#1c1c1c" stroke-width="0.90"/>
<path d="M 149.45,414.83 L 159.50,414.35 L 183.75,421.66" fill="none" stroke="#1c1c1c" stroke-width="0.90"/>
<path d="M 162.26,424.85 L 167.02,420.72 L 170.03,424.85" fill="none" stroke="#1c1c1c" stroke-width="0.80"/>
<path d="M 167.02,420.12 L 177.17,422.48 L 181.37,425.66" fill="none" stroke="#1c1c1c" stroke-width="0.80"/>
<path d="M123.00,389.50 L178.75,389.50" fill="none" stroke="#3c3c3c" stroke-width="0.70"/>
<path d="M123.00,432.50 L178.75,432.50" fill="none" stroke="#3c3c3c" stroke-width="0.70"/>
<path d="M130.50,390.00 L130.50,403.00" fill="none" stroke="#3c3c3c" stroke-width="0.70"/>
<path d="M130.50,419.50 L130.50,432.00" fill="none" stroke="#3c3c3c" stroke-width="0.70"/>
<polygon points="130.50,390.00 132.70,398.80 128.30,398.80" fill="#111"/>
<polygon points="130.50,432.00 128.30,423.20 132.70,423.20" fill="#111"/>
<text transform="translate(131.25,419.13) scale(0.92,1)" x="0" y="0" font-size="22" text-anchor="middle" fill="#222">E</text>
<text x="356.25" y="268.75" font-size="20" textLength="69.75" lengthAdjust="spacingAndGlyphs" fill="#101010" stroke="#101010" stroke-width="0.32">Type 10</text>
<path d="M 359.50,325.00 Q 372.50,320.00 385.00,319.50 Q 415.00,322.50 445.00,327.00 Q 455.50,328.75 454.50,332.50 L 451.25,338.75 L 393.00,339.25 L 376.25,345.75" fill="none" stroke="#1c1c1c" stroke-width="1.00"/>
<path d="M 453.00,334.25 L 388.00,335.00 Q 378.75,337.50 376.25,345.00 L 372.00,348.50 Q 369.00,351.25 372.50,353.75 L 452.50,353.75 Q 456.50,355.50 454.50,361.25 Q 452.50,367.50 447.50,368.00 L 370.50,368.00 Q 366.25,367.50 365.25,363.75 L 359.50,325.00" fill="none" stroke="#1c1c1c" stroke-width="1.00"/>
<path d="M 375.00,354.50 Q 377.50,357.50 381.75,358.00 L 451.25,358.00" fill="none" stroke="#1c1c1c" stroke-width="1.00"/>
<path d="M 323.75,348.75 L 359.50,330.50" fill="none" stroke="#1c1c1c" stroke-width="1.00"/>
<path d="M 323.75,348.75 L 327.36,362.41" fill="none" stroke="#1c1c1c" stroke-width="1.00"/>
<path d="M 327.93,362.70 L 342.80,361.53 L 364.73,361.05" fill="none" stroke="#1c1c1c" stroke-width="1.00"/>
<path d="M 327.36,362.41 L 338.93,356.64 L 341.37,355.43" fill="none" stroke="#1c1c1c" stroke-width="0.90"/>
<path d="M 341.50,347.86 L 344.63,339.87 Q 345.87,338.30 348.91,337.88 L 354.90,337.16 Q 357.70,337.07 357.54,340.10 L 356.56,346.69 Q 355.91,350.87 350.42,353.18 Q 345.57,354.92 342.96,352.47 Q 341.45,350.61 341.50,347.86 Z" fill="none" stroke="#1c1c1c" stroke-width="1.05"/>
<path d="M 354.07,337.73 Q 354.99,343.05 354.38,347.28" fill="none" stroke="#1c1c1c" stroke-width="0.85"/>
<path d="M 342.32,347.88 Q 348.03,351.69 356.57,346.06" fill="none" stroke="#1c1c1c" stroke-width="0.90"/>
<path d="M 341.53,346.42 L 337.76,352.38 L 344.35,355.48" fill="none" stroke="#1c1c1c" stroke-width="0.90"/>
<path d="M 357.19,343.66 L 364.48,340.23 L 367.42,345.68 L 357.71,349.75" fill="none" stroke="#1c1c1c" stroke-width="1.00"/>
<path d="M 333.69,345.65 L 334.78,351.74" fill="none" stroke="#1c1c1c" stroke-width="0.80"/>
<path d="M377.50,345.00 L432.50,310.00" fill="none" stroke="#1c1c1c" stroke-width="0.90"/>
<path d="M 419.50,303.75 Q 430.00,316.25 433.75,338.75" fill="none" stroke="#3c3c3c" stroke-width="0.75"/>
<polygon points="427.00,315.00 432.46,321.22 428.70,323.09" fill="#111"/>
<polygon points="433.75,339.25 431.23,330.87 435.42,330.66" fill="#111"/>
<text transform="translate(411.00,311.88) scale(0.92,1)" x="0" y="0" font-size="22" text-anchor="middle" fill="#222">D</text>
<text transform="translate(466.50,320.75) scale(0.92,1)" x="0" y="0" font-size="22" text-anchor="middle" fill="#222">A</text>
<path d="M467.50,321.25 L467.50,338.50" fill="none" stroke="#3c3c3c" stroke-width="0.70"/>
<polygon points="467.50,338.75 465.30,329.95 469.70,329.95" fill="#111"/>
<path d="M456.25,339.50 L473.75,339.50" fill="none" stroke="#1c1c1c" stroke-width="0.90"/>
<path d="M456.25,353.50 L473.75,353.50" fill="none" stroke="#1c1c1c" stroke-width="0.90"/>
<path d="M467.50,375.00 L467.50,354.25" fill="none" stroke="#3c3c3c" stroke-width="0.70"/>
<polygon points="467.50,354.00 469.70,362.80 465.30,362.80" fill="#111"/>
<path d="M370.50,375.00 L370.50,392.50" fill="none" stroke="#3c3c3c" stroke-width="0.70"/>
<path d="M454.50,375.00 L454.50,410.00" fill="none" stroke="#3c3c3c" stroke-width="0.70"/>
<path d="M370.00,383.50 L396.25,383.50" fill="none" stroke="#3c3c3c" stroke-width="0.70"/>
<path d="M426.25,383.50 L454.50,383.50" fill="none" stroke="#3c3c3c" stroke-width="0.70"/>
<polygon points="370.00,383.50 378.80,381.30 378.80,385.70" fill="#111"/>
<polygon points="454.50,383.50 445.70,385.70 445.70,381.30" fill="#111"/>
<text transform="translate(414.00,391.25) scale(0.92,1)" x="0" y="0" font-size="22" text-anchor="middle" fill="#222">B</text>
<path d="M 360.50,392.50 L 382.50,392.50 C 418.75,392.50 454.75,399.00 454.75,414.25 C 454.75,430.00 418.75,436.75 382.50,436.75 L 361.25,436.75 L 359.50,433.75 L 359.50,395.50 Z" fill="none" stroke="#1c1c1c" stroke-width="1.00"/>
<path d="M 359.50,398.75 Q 375.00,396.50 392.50,396.25 C 420.00,396.75 452.00,402.00 452.00,414.00 C 452.00,427.25 420.00,432.50 392.50,433.00 Q 375.00,433.00 359.50,431.25" fill="none" stroke="#1c1c1c" stroke-width="1.00"/>
<path d="M370.50,392.50 L370.50,436.75" fill="none" stroke="#1c1c1c" stroke-width="0.70" stroke-dasharray="1.2,1.2"/>
<path d="M 326.54,401.00 L 359.50,398.56" fill="none" stroke="#1c1c1c" stroke-width="1.00"/>
<path d="M 326.54,401.00 Q 322.68,414.93 326.54,428.25" fill="none" stroke="#1c1c1c" stroke-width="1.00"/>
<path d="M 326.54,428.25 L 338.05,428.87 L 359.50,429.71" fill="none" stroke="#1c1c1c" stroke-width="1.00"/>
<path d="M 333.87,401.00 L 335.08,410.69" fill="none" stroke="#1c1c1c" stroke-width="0.90"/>
<path d="M 334.48,418.34 L 335.08,428.52" fill="none" stroke="#1c1c1c" stroke-width="0.90"/>
<path d="M 324.46,410.69 L 335.08,410.69 L 359.50,404.00" fill="none" stroke="#1c1c1c" stroke-width="0.90"/>
<path d="M 324.46,418.56 L 334.73,418.08 L 359.50,425.60" fill="none" stroke="#1c1c1c" stroke-width="0.90"/>
<path d="M 337.55,428.87 L 342.41,424.63 L 345.49,428.87" fill="none" stroke="#1c1c1c" stroke-width="0.80"/>
<path d="M 342.41,424.01 L 352.78,426.44 L 357.07,429.71" fill="none" stroke="#1c1c1c" stroke-width="0.80"/>
<path d="M304.50,392.50 L357.50,392.50" fill="none" stroke="#3c3c3c" stroke-width="0.70"/>
<path d="M304.50,436.50 L357.50,436.50" fill="none" stroke="#3c3c3c" stroke-width="0.70"/>
<path d="M311.50,393.00 L311.50,406.25" fill="none" stroke="#3c3c3c" stroke-width="0.70"/>
<path d="M311.50,423.00 L311.50,436.25" fill="none" stroke="#3c3c3c" stroke-width="0.70"/>
<polygon points="311.50,393.00 313.70,401.80 309.30,401.80" fill="#111"/>
<polygon points="311.50,436.25 309.30,427.45 313.70,427.45" fill="#111"/>
<text transform="translate(311.62,422.38) scale(0.92,1)" x="0" y="0" font-size="22" text-anchor="middle" fill="#222">E</text>
<text x="550.00" y="265.00" font-size="18.5" textLength="92.00" lengthAdjust="spacingAndGlyphs" fill="#101010" stroke="#101010" stroke-width="0.32">Type 10 CN</text>
<path d="M 557.00,313.75 Q 570.00,305.00 585.00,303.75 Q 610.00,306.25 640.00,312.00 Q 650.50,313.00 650.00,316.50 L 647.50,327.50 L 596.25,328.00 L 582.50,333.00" fill="none" stroke="#1c1c1c" stroke-width="1.00"/>
<path d="M 640.00,323.75 L 592.50,324.25 Q 585.00,326.25 582.50,332.50 L 576.75,336.75 Q 573.25,339.75 577.50,342.50 L 650.00,342.50 Q 651.75,343.00 651.75,345.00 L 651.75,353.75 Q 651.75,356.75 649.00,356.75 L 573.00,356.75 Q 566.50,355.25 565.00,350.00 L 557.00,313.75" fill="none" stroke="#1c1c1c" stroke-width="1.00"/>
<path d="M 582.00,343.25 Q 583.75,347.00 588.00,347.50 L 648.00,347.50" fill="none" stroke="#1c1c1c" stroke-width="1.00"/>
<path d="M 640.00,323.75 Q 642.50,326.25 646.25,327.00" fill="none" stroke="#1c1c1c" stroke-width="0.80"/>
<path d="M 525.00,337.50 L 557.00,320.50" fill="none" stroke="#1c1c1c" stroke-width="1.00"/>
<path d="M 525.00,337.50 L 528.46,349.77" fill="none" stroke="#1c1c1c" stroke-width="1.00"/>
<path d="M 528.98,350.03 L 542.38,348.75 L 562.18,348.00" fill="none" stroke="#1c1c1c" stroke-width="1.00"/>
<path d="M 528.46,349.77 L 538.82,344.40 L 541.00,343.27" fill="none" stroke="#1c1c1c" stroke-width="0.90"/>
<path d="M 541.01,336.44 L 543.72,329.18 Q 544.81,327.74 547.55,327.31 L 552.94,326.58 Q 555.47,326.46 555.38,329.20 L 554.58,335.16 Q 554.06,338.94 549.14,341.11 Q 544.78,342.75 542.39,340.57 Q 541.01,338.92 541.01,336.44 Z" fill="none" stroke="#1c1c1c" stroke-width="1.05"/>
<path d="M 552.20,327.10 Q 553.11,331.89 552.63,335.72" fill="none" stroke="#1c1c1c" stroke-width="0.85"/>
<path d="M 541.75,336.44 Q 546.96,339.80 554.58,334.59" fill="none" stroke="#1c1c1c" stroke-width="0.90"/>
<path d="M 541.01,335.13 L 537.70,340.57 L 543.70,343.27" fill="none" stroke="#1c1c1c" stroke-width="0.90"/>
<path d="M 555.11,332.42 L 561.64,329.21 L 564.37,334.08 L 555.67,337.90" fill="none" stroke="#1c1c1c" stroke-width="1.00"/>
<path d="M 533.92,334.56 L 535.00,340.04" fill="none" stroke="#1c1c1c" stroke-width="0.80"/>
<path d="M582.50,332.50 L640.00,299.50" fill="none" stroke="#1c1c1c" stroke-width="0.90"/>
<path d="M 627.00,292.50 Q 638.00,305.00 641.25,327.00" fill="none" stroke="#3c3c3c" stroke-width="0.75"/>
<polygon points="635.00,303.50 640.46,309.72 636.70,311.59" fill="#111"/>
<polygon points="641.25,327.50 638.73,319.12 642.92,318.91" fill="#111"/>
<text transform="translate(619.00,301.88) scale(0.92,1)" x="0" y="0" font-size="22" text-anchor="middle" fill="#222">D</text>
<text transform="translate(663.50,310.75) scale(0.92,1)" x="0" y="0" font-size="22" text-anchor="middle" fill="#222">A</text>
<path d="M663.50,311.25 L663.50,327.25" fill="none" stroke="#3c3c3c" stroke-width="0.70"/>
<polygon points="663.50,327.50 661.30,318.70 665.70,318.70" fill="#111"/>
<path d="M652.50,328.50 L670.00,328.50" fill="none" stroke="#1c1c1c" stroke-width="0.90"/>
<path d="M653.75,342.50 L670.00,342.50" fill="none" stroke="#1c1c1c" stroke-width="0.90"/>
<path d="M663.50,365.00 L663.50,343.50" fill="none" stroke="#3c3c3c" stroke-width="0.70"/>
<polygon points="663.50,343.25 665.70,352.05 661.30,352.05" fill="#111"/>
<path d="M575.50,371.25 L575.50,390.50" fill="none" stroke="#3c3c3c" stroke-width="0.70"/>
<path d="M650.50,371.25 L650.50,400.00" fill="none" stroke="#3c3c3c" stroke-width="0.70"/>
<path d="M575.50,379.50 L600.00,379.50" fill="none" stroke="#3c3c3c" stroke-width="0.70"/>
<path d="M626.25,379.50 L650.75,379.50" fill="none" stroke="#3c3c3c" stroke-width="0.70"/>
<polygon points="575.50,379.50 584.30,377.30 584.30,381.70" fill="#111"/>
<polygon points="650.75,379.50 641.95,381.70 641.95,377.30" fill="#111"/>
<text transform="translate(613.75,387.00) scale(0.92,1)" x="0" y="0" font-size="22" text-anchor="middle" fill="#222">B</text>
<path d="M 558.75,390.50 L 640.00,390.50 Q 651.25,391.50 651.25,402.50 L 651.25,418.75 Q 651.25,430.25 640.00,431.25 L 560.00,431.25 L 557.50,427.50 L 557.50,393.75 Z" fill="none" stroke="#1c1c1c" stroke-width="1.00"/>
<path d="M 557.50,397.50 L 637.50,393.75 Q 648.00,394.75 648.00,403.75 L 648.00,418.75 Q 647.50,427.50 637.50,428.00 L 557.50,425.00" fill="none" stroke="#1c1c1c" stroke-width="1.00"/>
<path d="M 651.25,405.00 L 593.75,405.00 L 593.75,415.00 L 651.25,415.00" fill="none" stroke="#1c1c1c" stroke-width="1.00"/>
<path d="M575.50,390.50 L575.50,431.25" fill="none" stroke="#1c1c1c" stroke-width="0.70" stroke-dasharray="2,1.5"/>
<path d="M 527.53,398.32 L 557.50,396.08" fill="none" stroke="#1c1c1c" stroke-width="1.00"/>
<path d="M 527.53,398.32 Q 524.02,411.16 527.53,423.43" fill="none" stroke="#1c1c1c" stroke-width="1.00"/>
<path d="M 527.53,423.43 L 538.00,424.00 L 557.50,424.77" fill="none" stroke="#1c1c1c" stroke-width="1.00"/>
<path d="M 534.20,398.32 L 535.30,407.25" fill="none" stroke="#1c1c1c" stroke-width="0.90"/>
<path d="M 534.75,414.30 L 535.30,423.67" fill="none" stroke="#1c1c1c" stroke-width="0.90"/>
<path d="M 525.65,407.25 L 535.30,407.25 L 557.50,401.10" fill="none" stroke="#1c1c1c" stroke-width="0.90"/>
<path d="M 525.65,414.50 L 534.98,414.05 L 557.50,420.98" fill="none" stroke="#1c1c1c" stroke-width="0.90"/>
<path d="M 537.54,424.00 L 541.97,420.08 L 544.76,424.00" fill="none" stroke="#1c1c1c" stroke-width="0.80"/>
<path d="M 541.97,419.51 L 551.39,421.76 L 555.29,424.77" fill="none" stroke="#1c1c1c" stroke-width="0.80"/>
<path d="M509.50,390.50 L552.50,390.50" fill="none" stroke="#3c3c3c" stroke-width="0.70"/>
<path d="M509.50,431.50 L552.50,431.50" fill="none" stroke="#3c3c3c" stroke-width="0.70"/>
<path d="M516.50,391.00 L516.50,402.00" fill="none" stroke="#3c3c3c" stroke-width="0.70"/>
<path d="M516.50,418.75 L516.50,430.75" fill="none" stroke="#3c3c3c" stroke-width="0.70"/>
<polygon points="516.50,391.00 518.70,399.80 514.30,399.80" fill="#111"/>
<polygon points="516.50,430.75 514.30,421.95 518.70,421.95" fill="#111"/>
<text transform="translate(516.62,418.38) scale(0.92,1)" x="0" y="0" font-size="22" text-anchor="middle" fill="#222">E</text>
<text x="727.00" y="258.00" font-size="20" textLength="67.50" lengthAdjust="spacingAndGlyphs" fill="#101010" stroke="#101010" stroke-width="0.12">Type 51</text>
<path d="M 740.00,301.88 Q 746.25,297.25 755.00,296.25 L 823.12,296.25 L 825.62,301.25 L 826.25,315.62 L 821.88,324.38" fill="none" stroke="#1c1c1c" stroke-width="1.10"/>
<path d="M 755.25,296.50 L 758.75,303.75 L 825.25,303.25" fill="none" stroke="#1c1c1c" stroke-width="1.00"/>
<path d="M 758.25,303.50 L 746.88,313.50" fill="none" stroke="#1c1c1c" stroke-width="1.00"/>
<path d="M 740.00,301.88 L 755.00,325.62 L 750.00,333.75" fill="none" stroke="#1c1c1c" stroke-width="1.00"/>
<path d="M 743.12,307.50 L 746.88,313.50" fill="none" stroke="#1c1c1c" stroke-width="1.00"/>
<path d="M773.50,308.75 L773.50,343.12" fill="none" stroke="#1c1c1c" stroke-width="0.80"/>
<path d="M813.50,305.62 L813.50,318.12" fill="none" stroke="#1c1c1c" stroke-width="0.80"/>
<path d="M 773.12,338.12 L 826.00,315.62" fill="none" stroke="#1c1c1c" stroke-width="1.00"/>
<path d="M 761.25,348.75 L 773.12,343.50 L 822.50,323.12" fill="none" stroke="#1c1c1c" stroke-width="1.30"/>
<path d="M 750.00,333.75 Q 758.75,332.25 765.00,335.62 L 773.12,340.00" fill="none" stroke="#1c1c1c" stroke-width="1.00"/>
<path d="M 750.00,333.75 L 760.62,350.00" fill="none" stroke="#1c1c1c" stroke-width="1.00"/>
<path d="M 708.75,343.75 L 743.12,306.62" fill="none" stroke="#1c1c1c" stroke-width="1.00"/>
<path d="M 708.75,343.75 L 718.75,358.75 L 723.75,355.25 Q 737.50,348.75 754.38,344.38" fill="none" stroke="#1c1c1c" stroke-width="1.00"/>
<path d="M 711.88,347.50 L 720.00,358.12" fill="none" stroke="#1c1c1c" stroke-width="0.80"/>
<path d="M 718.75,333.75 L 723.75,348.12 L 742.50,339.38" fill="none" stroke="#1c1c1c" stroke-width="0.90"/>
<path d="M 728.75,331.25 Q 730.00,323.75 737.50,321.25 Q 743.12,320.62 743.75,327.50 Q 743.75,333.75 737.50,338.12 Q 731.25,341.25 729.00,336.25 Z" fill="none" stroke="#1c1c1c" stroke-width="1.00"/>
<path d="M 737.50,321.25 Q 741.25,327.50 740.00,336.25" fill="none" stroke="#1c1c1c" stroke-width="0.80"/>
<path d="M 729.00,336.25 L 723.75,348.12" fill="none" stroke="#1c1c1c" stroke-width="0.80"/>
<path d="M 733.12,340.00 L 735.00,343.12 L 743.12,338.12" fill="none" stroke="#1c1c1c" stroke-width="0.80"/>
<path d="M 741.25,323.75 Q 745.62,327.50 745.00,333.75" fill="none" stroke="#1c1c1c" stroke-width="0.80"/>
<path d="M760.62,350.00 L766.88,359.00" fill="none" stroke="#3c3c3c" stroke-width="0.70"/>
<path d="M821.88,325.00 L829.38,335.62" fill="none" stroke="#3c3c3c" stroke-width="0.70"/>
<path d="M766.88,357.25 L786.25,348.75" fill="none" stroke="#3c3c3c" stroke-width="0.70"/>
<polygon points="766.00,357.62 773.17,352.07 774.94,356.09" fill="#111"/>
<path d="M804.38,341.25 L823.12,333.38" fill="none" stroke="#3c3c3c" stroke-width="0.70"/>
<polygon points="824.38,332.88 817.11,338.31 815.41,334.25" fill="#111"/>
<text transform="translate(794.06,355.06) scale(0.92,1)" x="0" y="0" font-size="22" text-anchor="middle" fill="#222">C</text>
<path d="M749.50,361.25 L749.50,379.50" fill="none" stroke="#3c3c3c" stroke-width="0.70"/>
<path d="M826.50,342.50 L826.50,397.50" fill="none" stroke="#3c3c3c" stroke-width="0.70"/>
<path d="M749.50,370.50 L780.00,370.50" fill="none" stroke="#3c3c3c" stroke-width="0.70"/>
<path d="M795.00,370.50 L826.25,370.50" fill="none" stroke="#3c3c3c" stroke-width="0.70"/>
<polygon points="749.50,370.50 758.30,368.30 758.30,372.70" fill="#111"/>
<polygon points="826.25,370.50 817.45,372.70 817.45,368.30" fill="#111"/>
<text transform="translate(787.50,378.13) scale(0.92,1)" x="0" y="0" font-size="22" text-anchor="middle" fill="#222">B</text>
<path d="M 746.25,379.38 L 777.50,379.38 Q 802.50,385.00 818.75,392.50 Q 826.50,397.50 825.75,406.25 Q 825.00,416.25 817.50,420.00 Q 800.00,427.75 777.50,432.50 L 748.12,432.50 L 741.25,424.00 L 740.00,406.25 L 740.62,388.75 Z" fill="none" stroke="#1c1c1c" stroke-width="1.00"/>
<path d="M 756.00,382.50 Q 790.00,385.00 816.25,395.00 Q 823.75,399.38 823.25,406.25 Q 822.50,413.75 816.25,417.50 Q 796.25,426.25 756.00,430.00" fill="none" stroke="#1c1c1c" stroke-width="1.00"/>
<path d="M 756.00,379.75 L 756.00,432.25" fill="none" stroke="#1c1c1c" stroke-width="0.90"/>
<path d="M 756.00,379.75 Q 753.50,406.25 756.00,432.25" fill="none" stroke="#1c1c1c" stroke-width="0.80"/>
<path d="M 740.62,388.75 L 745.00,385.00 L 756.00,381.25" fill="none" stroke="#1c1c1c" stroke-width="0.90"/>
<path d="M 741.25,424.00 L 745.62,428.12 L 756.00,431.00" fill="none" stroke="#1c1c1c" stroke-width="0.80"/>
<path d="M740.00,406.50 L825.25,406.50" fill="none" stroke="#1c1c1c" stroke-width="0.80"/>
<path d="M 740.62,386.88 L 716.25,389.75 Q 710.00,397.50 708.75,406.25 Q 710.00,415.00 714.38,421.88 L 723.75,422.50 Q 726.25,418.12 731.25,418.12 L 737.50,421.25 L 741.25,425.00" fill="none" stroke="#1c1c1c" stroke-width="1.00"/>
<path d="M 708.75,402.50 L 716.88,404.38 L 740.00,396.88" fill="none" stroke="#1c1c1c" stroke-width="0.90"/>
<path d="M 708.75,408.12 L 716.88,407.50 L 723.75,410.00 L 740.00,415.00" fill="none" stroke="#1c1c1c" stroke-width="0.90"/>
<path d="M 728.75,418.12 L 733.75,421.25 L 737.50,423.12" fill="none" stroke="#1c1c1c" stroke-width="0.80"/>
<path d="M 725.00,423.12 L 733.12,423.75" fill="none" stroke="#1c1c1c" stroke-width="0.80"/>
<path d="M693.12,379.50 L746.25,379.50" fill="none" stroke="#3c3c3c" stroke-width="0.70"/>
<path d="M693.12,432.50 L748.75,432.50" fill="none" stroke="#3c3c3c" stroke-width="0.70"/>
<path d="M701.50,388.75 L701.50,394.38" fill="none" stroke="#3c3c3c" stroke-width="0.75" stroke-dasharray="2.5,1.5"/>
<path d="M701.50,416.88 L701.50,423.75" fill="none" stroke="#3c3c3c" stroke-width="0.75" stroke-dasharray="2.5,1.5"/>
<polygon points="701.50,379.75 703.70,388.55 699.30,388.55" fill="#111"/>
<polygon points="701.50,432.38 699.30,423.57 703.70,423.57" fill="#111"/>
<text transform="translate(701.12,414.00) scale(0.92,1)" x="0" y="0" font-size="22" text-anchor="middle" fill="#222">E</text>
<text x="895.50" y="260.00" font-size="20.5" textLength="73.00" lengthAdjust="spacingAndGlyphs" fill="#101010" stroke="#101010" stroke-width="0.12">Type 52</text>
<path d="M 927.00,302.50 L 1006.38,302.50 Q 1010.25,305.62 1009.50,310.00 L 1004.50,316.88 L 939.50,344.38 L 930.75,347.50 L 913.88,348.25 L 912.00,346.50 L 912.00,333.12 L 920.12,330.62 L 920.12,308.75 L 927.00,304.50 Z" fill="none" stroke="#1c1c1c" stroke-width="1.05"/>
<path d="M 937.00,308.12 L 1009.00,308.12" fill="none" stroke="#1c1c1c" stroke-width="1.00"/>
<path d="M 927.00,302.50 L 934.25,303.50 L 937.00,308.38 L 936.75,321.25" fill="none" stroke="#1c1c1c" stroke-width="0.90"/>
<path d="M 1009.00,310.62 L 995.12,313.12 L 952.00,315.88 Q 942.00,316.88 937.00,321.25 Q 932.00,326.25 928.88,330.00" fill="none" stroke="#1c1c1c" stroke-width="1.00"/>
<path d="M 995.12,313.12 L 997.00,319.50 L 1006.00,315.00" fill="none" stroke="#1c1c1c" stroke-width="0.90"/>
<path d="M952.50,315.88 L952.50,339.38" fill="none" stroke="#1c1c1c" stroke-width="0.80"/>
<path d="M 927.00,304.50 L 927.00,331.00" fill="none" stroke="#1c1c1c" stroke-width="0.90"/>
<path d="M 927.00,308.75 Q 923.25,315.00 921.38,320.25" fill="none" stroke="#1c1c1c" stroke-width="0.80"/>
<path d="M 920.12,330.62 L 928.88,330.00 Q 930.75,338.12 939.50,344.38" fill="none" stroke="#1c1c1c" stroke-width="0.90"/>
<path d="M 921.38,333.12 L 919.50,347.75" fill="none" stroke="#1c1c1c" stroke-width="0.80"/>
<path d="M 881.38,315.00 L 920.12,312.50" fill="none" stroke="#1c1c1c" stroke-width="1.00"/>
<path d="M 881.38,315.00 L 879.50,328.12 L 886.00,329.50 L 912.00,340.00" fill="none" stroke="#1c1c1c" stroke-width="1.00"/>
<path d="M 888.25,315.62 L 888.88,323.12 L 898.50,329.75" fill="none" stroke="#1c1c1c" stroke-width="0.85"/>
<path d="M 888.88,323.50 L 898.88,321.25" fill="none" stroke="#1c1c1c" stroke-width="0.85"/>
<path d="M 898.50,322.75 Q 898.50,316.75 903.50,316.75 Q 908.50,316.75 908.50,322.75 L 908.50,328.50 Q 903.50,331.00 898.50,328.50 Z" fill="none" stroke="#1c1c1c" stroke-width="1.00"/>
<path d="M 898.50,326.00 Q 903.50,327.75 908.50,325.62" fill="none" stroke="#1c1c1c" stroke-width="0.80"/>
<path d="M 908.50,318.12 Q 914.75,320.00 913.50,326.25 Q 912.25,330.25 908.25,331.50" fill="none" stroke="#1c1c1c" stroke-width="0.85"/>
<path d="M 898.50,329.75 L 912.00,332.50" fill="none" stroke="#1c1c1c" stroke-width="0.80"/>
<path d="M928.50,351.25 L928.50,368.75" fill="none" stroke="#3c3c3c" stroke-width="0.70"/>
<path d="M1011.50,350.00 L1011.50,383.75" fill="none" stroke="#3c3c3c" stroke-width="0.70"/>
<path d="M928.00,361.50 L960.00,361.50" fill="none" stroke="#3c3c3c" stroke-width="0.70"/>
<path d="M982.00,361.50 L1011.25,361.50" fill="none" stroke="#3c3c3c" stroke-width="0.70"/>
<polygon points="928.00,361.50 936.80,359.30 936.80,363.70" fill="#111"/>
<polygon points="1011.25,361.50 1002.45,363.70 1002.45,359.30" fill="#111"/>
<text transform="translate(971.50,369.50) scale(0.92,1)" x="0" y="0" font-size="22" text-anchor="middle" fill="#222">B</text>
<path d="M 912.50,370.75 L 927.50,370.75 L 932.50,371.25 L 1002.50,380.50 Q 1011.75,383.75 1010.00,392.00 Q 1010.00,400.00 1002.50,403.00 L 932.50,412.50 L 912.50,412.50 L 912.50,408.25 L 921.25,407.50 L 921.25,376.25 L 912.50,375.00 Z" fill="none" stroke="#1c1c1c" stroke-width="1.00"/>
<path d="M 933.75,373.75 L 1000.00,383.00 Q 1007.00,385.50 1006.50,392.00 Q 1006.25,398.00 1000.00,400.50 L 933.75,410.00" fill="none" stroke="#1c1c1c" stroke-width="1.00"/>
<path d="M921.25,392.50 L1002.50,392.50" fill="none" stroke="#1c1c1c" stroke-width="0.80"/>
<path d="M 927.50,370.75 Q 927.00,376.25 921.25,377.50" fill="none" stroke="#1c1c1c" stroke-width="0.90"/>
<path d="M 921.25,406.25 Q 927.00,407.00 927.50,412.50" fill="none" stroke="#1c1c1c" stroke-width="0.90"/>
<path d="M 921.25,376.25 L 882.50,378.00 Q 879.25,385.00 879.50,392.00 Q 879.50,398.75 882.50,404.50 L 891.25,405.00 Q 896.25,400.00 903.75,401.25 Q 910.00,402.50 912.50,408.25" fill="none" stroke="#1c1c1c" stroke-width="1.00"/>
<path d="M 880.50,387.00 L 895.00,388.75 L 921.25,382.00" fill="none" stroke="#1c1c1c" stroke-width="0.90"/>
<path d="M 880.50,396.25 L 895.00,394.50 L 921.25,400.50" fill="none" stroke="#1c1c1c" stroke-width="0.90"/>
<path d="M 891.25,405.00 L 900.00,402.50" fill="none" stroke="#1c1c1c" stroke-width="0.80"/>
<path d="M857.50,370.50 L910.00,370.50" fill="none" stroke="#3c3c3c" stroke-width="0.70"/>
<path d="M857.50,412.50 L910.00,412.50" fill="none" stroke="#3c3c3c" stroke-width="0.70"/>
<path d="M866.50,371.50 L866.50,383.75" fill="none" stroke="#3c3c3c" stroke-width="0.70"/>
<path d="M866.50,402.50 L866.50,412.00" fill="none" stroke="#3c3c3c" stroke-width="0.70"/>
<polygon points="866.50,371.50 868.70,380.30 864.30,380.30" fill="#111"/>
<polygon points="866.50,412.00 864.30,403.20 868.70,403.20" fill="#111"/>
<text transform="translate(865.88,401.00) scale(0.92,1)" x="0" y="0" font-size="22" text-anchor="middle" fill="#222">E</text>
<line x1="79.5" y1="450.5" x2="1086.5" y2="450.5" stroke="#38527f" stroke-width="1"/>
<line x1="79.5" y1="472.5" x2="1086.5" y2="472.5" stroke="#38527f" stroke-width="1"/>
<line x1="79.5" y1="495.5" x2="1086.5" y2="495.5" stroke="#38527f" stroke-width="1"/>
<line x1="79.5" y1="517.5" x2="1086.5" y2="517.5" stroke="#38527f" stroke-width="1"/>
<line x1="79.5" y1="540.5" x2="1086.5" y2="540.5" stroke="#38527f" stroke-width="1"/>
<line x1="79.5" y1="562.5" x2="1086.5" y2="562.5" stroke="#38527f" stroke-width="1"/>
<line x1="79.5" y1="584.5" x2="1086.5" y2="584.5" stroke="#38527f" stroke-width="1"/>
<line x1="79.5" y1="450.5" x2="79.5" y2="584.5" stroke="#38527f" stroke-width="1"/>
<line x1="179.5" y1="450.5" x2="179.5" y2="584.5" stroke="#38527f" stroke-width="1"/>
<line x1="388.5" y1="450.5" x2="388.5" y2="584.5" stroke="#38527f" stroke-width="1"/>
<line x1="518.5" y1="450.5" x2="518.5" y2="584.5" stroke="#38527f" stroke-width="1"/>
<line x1="1086.5" y1="450.5" x2="1086.5" y2="584.5" stroke="#38527f" stroke-width="1"/>
<text x="88.75" y="468.00" font-size="15.4" font-weight="700" textLength="57.50" lengthAdjust="spacingAndGlyphs" fill="#1f3560">Part-No.</text>
<text x="187.50" y="468.00" font-size="15.4" font-weight="700" textLength="76.25" lengthAdjust="spacingAndGlyphs" fill="#1f3560">1837A-U45</text>
<text x="88.75" y="490.00" font-size="15.4" font-weight="400" textLength="76.75" lengthAdjust="spacingAndGlyphs" fill="#3a4a60">Description</text>
<text x="187.50" y="490.00" font-size="15.4" font-weight="400" textLength="93.75" lengthAdjust="spacingAndGlyphs" fill="#3a4a60">1-1/2 Top Leg</text>
<text x="88.75" y="512.00" font-size="15.4" font-weight="400" textLength="58.25" lengthAdjust="spacingAndGlyphs" fill="#3a4a60">A mm/in</text>
<text x="187.50" y="512.00" font-size="15.4" font-weight="400" textLength="52.50" lengthAdjust="spacingAndGlyphs" fill="#3a4a60">50/2.00</text>
<text x="88.75" y="534.50" font-size="15.4" font-weight="400" textLength="57.50" lengthAdjust="spacingAndGlyphs" fill="#3a4a60">B mm/in</text>
<text x="187.50" y="534.50" font-size="15.4" font-weight="400" textLength="68.75" lengthAdjust="spacingAndGlyphs" fill="#3a4a60">283/11.15</text>
<text x="88.75" y="556.75" font-size="15.4" font-weight="400" textLength="57.50" lengthAdjust="spacingAndGlyphs" fill="#3a4a60">C mm/in</text>
<text x="187.50" y="556.75" font-size="15.4" font-weight="400" textLength="61.25" lengthAdjust="spacingAndGlyphs" fill="#3a4a60">179/7.03</text>
<text x="88.75" y="579.25" font-size="15.4" font-weight="400" textLength="56.25" lengthAdjust="spacingAndGlyphs" fill="#3a4a60">E mm/in</text>
<text x="187.50" y="579.25" font-size="15.4" font-weight="400" textLength="61.25" lengthAdjust="spacingAndGlyphs" fill="#3a4a60">144/5.67</text>
<text x="397.00" y="490.00" font-size="15.4" font-weight="400" textLength="32.50" lengthAdjust="spacingAndGlyphs" fill="#3a4a60">TYPE</text>
<text x="526.25" y="490.00" font-size="15.4" font-weight="400" textLength="7.50" lengthAdjust="spacingAndGlyphs" fill="#3a4a60">4</text>
<text x="397.00" y="512.00" font-size="15.4" font-weight="400" textLength="19.25" lengthAdjust="spacingAndGlyphs" fill="#3a4a60">D °</text>
<text x="526.25" y="512.00" font-size="15.4" font-weight="400" textLength="16.25" lengthAdjust="spacingAndGlyphs" fill="#3a4a60">30</text>
<text x="397.00" y="534.50" font-size="15.4" font-weight="400" textLength="83.50" lengthAdjust="spacingAndGlyphs" fill="#3a4a60">Nose Angle °</text>
<text x="527.00" y="534.50" font-size="15.4" font-weight="400" textLength="15.50" lengthAdjust="spacingAndGlyphs" fill="#3a4a60">15</text>
<text x="397.00" y="556.75" font-size="15.4" font-weight="400" textLength="40.50" lengthAdjust="spacingAndGlyphs" fill="#3a4a60">kg/lbs</text>
<text x="526.25" y="556.75" font-size="15.4" font-weight="400" textLength="40.00" lengthAdjust="spacingAndGlyphs" fill="#3a4a60">27/60</text>
<text x="397.00" y="579.25" font-size="15.4" font-weight="400" textLength="66.75" lengthAdjust="spacingAndGlyphs" fill="#3a4a60">Comment</text>
<text x="526.25" y="579.25" font-size="15.4" font-weight="400" textLength="80.00" lengthAdjust="spacingAndGlyphs" fill="#3a4a60">Loadmaster</text>
<rect x="80" y="0" width="1030" height="2" fill="#f1f3f5"/>
</svg>
</body></html>
